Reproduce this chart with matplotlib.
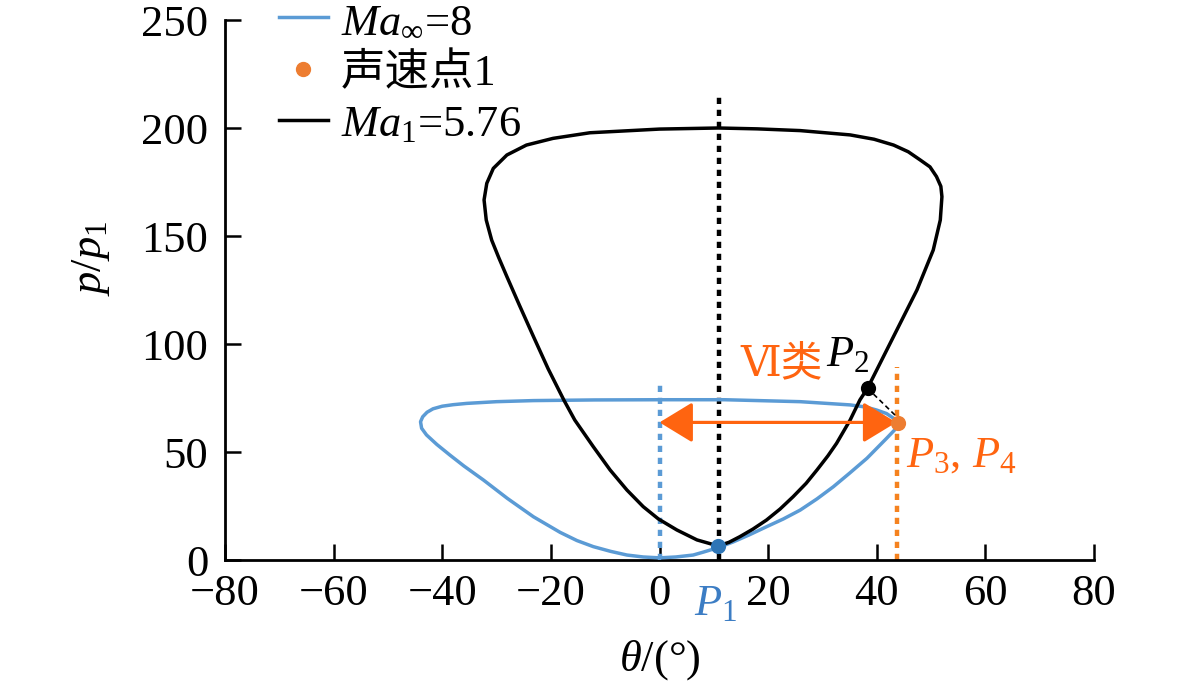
import matplotlib
matplotlib.use("Agg")
import matplotlib.pyplot as plt
from matplotlib.lines import Line2D

plt.rcParams['font.family'] = ['Liberation Serif', 'Noto Sans CJK SC', 'DejaVu Sans']
plt.rcParams['mathtext.fontset'] = 'custom'
plt.rcParams['mathtext.rm'] = 'Liberation Serif'
plt.rcParams['mathtext.it'] = 'Liberation Serif:italic'
plt.rcParams['mathtext.bf'] = 'Liberation Serif:bold'

# ---- data ----
# Ma_inf = 8 shock polar (closed loop)
blue_theta = [0, -3.0, -6.0, -9.0, -12.2, -15.2, -18.3, -23.2, -28.0, -32.4, -36.0, -38.6,
              -41.0, -42.9, -43.8, -44.0, -43.6, -42.8, -41.7, -40.0, -38.0, -35.5, -30.0,
              -23.2, -12.0, 0, 12.0, 25.9, 35.1, 38.0, 40.0, 41.8, 43.1, 43.8, 44.0, 43.4,
              41.8, 38.2, 35.0, 32.0, 29.0, 25.9, 22.8, 19.7, 16.5, 13.5, 10.5, 8.0, 6.2,
              3.0, 0]
blue_p = [1.0, 1.4, 2.3, 4.0, 6.2, 9.0, 12.8, 20.0, 28.5, 37.0, 43.5, 48.6,
          53.5, 57.9, 61.0, 64.0, 66.3, 68.4, 70.0, 71.2, 71.9, 72.5, 73.3,
          73.8, 74.1, 74.2, 74.2, 73.3, 71.8, 70.8, 69.4, 67.8, 65.6, 64.3, 63.3, 60.5,
          56.3, 47.1, 40.2, 33.9, 28.3, 23.1, 19.0, 15.4, 11.6, 8.3, 5.5, 3.6, 2.3,
          1.4, 1.0]

# Ma1 = 5.76 shock polar (closed loop)
black_theta = [10.8, 12.8, 14.8, 17.2, 19.7, 22.2, 24.6, 27.0, 29.0, 31.0, 32.6, 35.1,
               36.9, 38.3, 41.0, 43.7, 47.4, 50.4, 51.7, 52.0, 51.8, 51.0, 49.8, 48.0,
               45.8, 43.1, 39.5, 35.1, 25.9, 18.0, 10.8, 0, -12.8, -19.6, -24.5, -28.1,
               -30.6, -31.8, -32.3, -31.9, -30.9, -29.6, -28.1, -25.8, -23.2, -20.5, -17.6,
               -15.6, -12.2, -9.1, -6.0, -3.0, -0.2, 3.2, 6.9, 10.8]
black_p = [6.5, 8.2, 10.8, 14.3, 18.5, 23.6, 29.3, 35.5, 41.7, 48.2, 54.0, 64.8,
           74.1, 79.5, 93.0, 106.5, 125.0, 143.5, 157.4, 168.2, 173.0, 177.5, 182.0, 185.2,
           189.0, 192.1, 194.8, 196.8, 198.8, 199.6, 200.0, 199.5, 197.8, 195.2, 192.1, 187.5,
           181.3, 174.4, 166.7, 157.4, 148.1, 140.0, 131.2, 118.0, 103.4, 88.5, 74.0,
           64.8, 52.5, 41.7, 32.4, 24.7, 19.0, 13.9, 9.3, 6.5]

# special points
p1_pt = (10.8, 6.5)
p2_pt = (38.3, 79.5)
sonic_pt = (44.0, 63.3)
p2p3_end = (43.4, 67.0)

# vertical dotted lines: (theta, top)
black_vline = (10.9, 216.5)
blue_vline = (0.0, 83.5)
orange_vline = (43.8, 89.5)

arrow_y = 63.7
arrow_x = (0.0, 43.6)

xticks = [-80, -60, -40, -20, 0, 20, 40, 60, 80]
yticks = [0, 50, 100, 150, 200, 250]

BLUE = '#5B9BD5'
BLUE_DOT = '#2E75B6'
ORANGE_DOT = '#ED7D31'
ORANGE = '#FF6410'
FS = 32

fig = plt.figure(figsize=(11.81, 6.97), dpi=100)
ax = fig.add_axes([225/1181, 1 - 560/697, (1094-225)/1181, (560-20)/697])

ax.plot(blue_theta, blue_p, color=BLUE, lw=2.5, zorder=3, solid_joinstyle='round')
ax.plot(black_theta, black_p, color='black', lw=2.5, zorder=3, solid_joinstyle='round')

dot_style = (0, (1.4, 1.3))
ax.plot([black_vline[0]] * 2, [0, black_vline[1]], color='black', lw=3.2, ls=dot_style, zorder=2)
ax.plot([blue_vline[0]] * 2, [0, blue_vline[1]], color=BLUE, lw=3.2, ls=dot_style, zorder=2)
ax.plot([orange_vline[0]] * 2, [0, orange_vline[1]], color='#F5821F', lw=3.2, ls=dot_style, zorder=2)

ax.annotate('', xy=(arrow_x[1], arrow_y), xytext=(arrow_x[0], arrow_y),
            arrowprops=dict(arrowstyle='<|-|>,head_length=1.15,head_width=0.7',
                            color=ORANGE, lw=2.3, shrinkA=0, shrinkB=0, mutation_scale=18),
            zorder=4)

ax.plot([p2_pt[0], p2p3_end[0]], [p2_pt[1], p2p3_end[1]], color='black', lw=1.2,
        ls=(0, (3, 2)), zorder=4)

ax.scatter([p1_pt[0]], [p1_pt[1]], s=120, color=BLUE_DOT, zorder=5, linewidths=0)
ax.scatter([p2_pt[0]], [p2_pt[1]], s=120, color='black', zorder=5, linewidths=0)
ax.scatter([sonic_pt[0]], [sonic_pt[1]], s=120, color=ORANGE_DOT, zorder=5, linewidths=0)

# annotations
ax.text(22.5, 91, 'Ⅵ类', color=ORANGE, fontsize=30, ha='center', va='center',
        family=['DejaVu Serif', 'Noto Sans CJK SC'])
ax.text(34.7, 95, r'$P_2$', color='black', fontsize=FS, ha='center', va='center')
ax.text(45.3, 48.5, r'$P_3$, $P_4$', color=ORANGE, fontsize=FS, ha='left', va='center')
ax.text(10.3, -0.045, r'$P_1$', color='#3C7DC4', fontsize=FS, ha='center', va='top',
        transform=ax.get_xaxis_transform())

ax.set_xlim(-80, 80)
ax.set_ylim(0, 250)
ax.set_xticks(xticks)
ax.set_yticks(yticks)
ax.set_xticklabels([('−' if v < 0 else '') + str(abs(v)) for v in xticks])
ax.tick_params(axis='both', direction='in', length=11.5, width=1.8, labelsize=FS)
ax.tick_params(axis='x', pad=10)
ax.tick_params(axis='y', pad=12)
for s in ['top', 'right']:
    ax.spines[s].set_visible(False)
for s in ['left', 'bottom']:
    ax.spines[s].set_linewidth(2.0)

ax.set_xlabel(r'$\theta$/(°)', fontsize=FS)
ax.set_ylabel(r'$p$/$p_1$', fontsize=FS)
ax.xaxis.set_label_coords(0.5, -0.145)
ax.yaxis.set_label_coords(-0.130, 0.559)

handles = [Line2D([], [], color=BLUE, lw=2.5),
           Line2D([], [], color=ORANGE_DOT, marker='o', ls='none', markersize=10),
           Line2D([], [], color='black', lw=2.5)]
labels = [r'$Ma_{\infty}$=8', '声速点1', r'$Ma_1$=5.76']
leg = ax.legend(handles, labels, loc='upper left', bbox_to_anchor=(0.062, 1.035),
                frameon=False, borderaxespad=0, borderpad=0, handlelength=1.1,
                handletextpad=0.3, labelspacing=0.25, fontsize=FS)

fig.savefig('out.png', dpi=100)
